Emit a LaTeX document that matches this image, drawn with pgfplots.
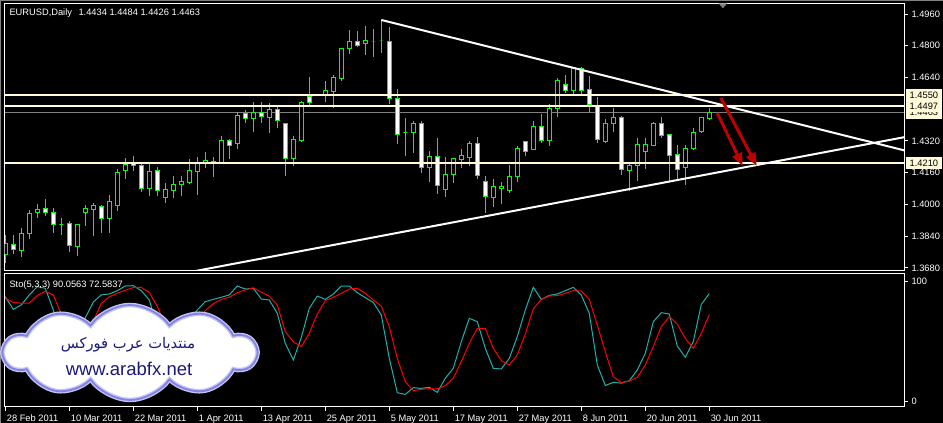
\documentclass[border=0pt]{standalone}
\usepackage{fontspec}
\setmainfont{Liberation Sans}
\newfontfamily\arabicfont[Script=Arabic]{DejaVu Sans}
\TeXXeTstate=1
\usepackage{pgfplots}
\pgfplotsset{compat=1.18}
\usepackage{pgfplotstable}
\usetikzlibrary{shapes.symbols,arrows.meta}

\definecolor{cream}{RGB}{255,250,215}
\definecolor{candle}{RGB}{0,255,0}
\definecolor{stoK}{RGB}{32,178,170}
\definecolor{stoD}{RGB}{255,0,0}
\definecolor{arrowred}{RGB}{190,0,0}
\definecolor{cloudedge}{RGB}{130,130,230}
\definecolor{cloudglow}{RGB}{195,195,245}
\definecolor{navytext}{RGB}{25,25,125}
\definecolor{bidgrey}{RGB}{128,128,128}

\newcommand\mtfont{\fontsize{9.3}{11}\selectfont}

\pgfplotstableread{
i o h l c
0 1.3750 1.3846 1.3705 1.3801
1 1.3799 1.3846 1.3750 1.3771
2 1.3767 1.3882 1.3735 1.3856
3 1.3856 1.3972 1.3826 1.3957
4 1.3962 1.4002 1.3932 1.3977
5 1.3982 1.4028 1.3942 1.3962
6 1.3962 1.3982 1.3856 1.3897
7 1.3897 1.3932 1.3846 1.3897
8 1.3902 1.3917 1.3761 1.3791
9 1.3786 1.3899 1.3740 1.3897
10 1.3962 1.3997 1.3892 1.3982
11 1.3977 1.4008 1.3841 1.3993
12 1.3991 1.3995 1.3856 1.3928
13 1.3927 1.4048 1.3856 1.4013
14 1.3997 1.4179 1.3967 1.4159
15 1.4169 1.4234 1.4128 1.4204
16 1.4209 1.4244 1.4169 1.4194
17 1.4194 1.4209 1.4063 1.4083
18 1.4083 1.4214 1.4043 1.4164
19 1.4169 1.4189 1.4043 1.4068
20 1.4033 1.4108 1.4008 1.4078
21 1.4073 1.4144 1.4033 1.4103
22 1.4103 1.4144 1.4043 1.4118
23 1.4113 1.4230 1.4103 1.4169
24 1.4164 1.4239 1.4048 1.4214
25 1.4209 1.4265 1.4184 1.4224
26 1.4213 1.4239 1.4139 1.4215
27 1.4214 1.4345 1.4212 1.4325
28 1.4325 1.4330 1.4230 1.4295
29 1.4305 1.4466 1.4280 1.4451
30 1.4461 1.4476 1.4411 1.4431
31 1.4431 1.4517 1.4367 1.4466
32 1.4466 1.4517 1.4411 1.4441
33 1.4436 1.4511 1.4360 1.4481
34 1.4481 1.4491 1.4386 1.4421
35 1.4406 1.4411 1.4144 1.4230
36 1.4230 1.4345 1.4194 1.4330
37 1.4325 1.4522 1.4315 1.4516
38 1.4542 1.4643 1.4496 1.4516
39 1.4550 1.4555 1.4545 1.4550
40 1.4552 1.4622 1.4517 1.4577
41 1.4567 1.4653 1.4486 1.4638
42 1.4633 1.4789 1.4622 1.4784
43 1.4784 1.4879 1.4758 1.4819
44 1.4819 1.4874 1.4794 1.4799
45 1.4809 1.4900 1.4753 1.4824
46 1.4819 1.4884 1.4743 1.4819
47 1.4824 1.4930 1.4764 1.4824
48 1.4819 1.4894 1.4507 1.4532
49 1.4532 1.4582 1.4305 1.4351
50 1.4361 1.4436 1.4245 1.4361
51 1.4361 1.4421 1.4260 1.4406
52 1.4406 1.4421 1.4159 1.4184
53 1.4184 1.4270 1.4114 1.4240
54 1.4240 1.4336 1.4053 1.4098
55 1.4078 1.4240 1.4038 1.4149
56 1.4149 1.4235 1.4109 1.4230
57 1.4225 1.4280 1.4184 1.4245
58 1.4235 1.4321 1.4194 1.4305
59 1.4305 1.4341 1.4129 1.4144
60 1.4118 1.4144 1.3957 1.4038
61 1.4033 1.4129 1.3988 1.4093
62 1.4083 1.4113 1.4003 1.4093
63 1.4073 1.4199 1.4058 1.4139
64 1.4139 1.4295 1.4113 1.4280
65 1.4315 1.4317 1.4245 1.4265
66 1.4275 1.4421 1.4273 1.4391
67 1.4391 1.4456 1.4311 1.4321
68 1.4321 1.4506 1.4295 1.4486
69 1.4486 1.4638 1.4441 1.4627
70 1.4607 1.4653 1.4562 1.4572
71 1.4572 1.4693 1.4557 1.4688
72 1.4683 1.4693 1.4557 1.4577
73 1.4582 1.4648 1.4466 1.4506
74 1.4496 1.4542 1.4311 1.4330
75 1.4316 1.4431 1.4311 1.4406
76 1.4406 1.4486 1.4366 1.4436
77 1.4436 1.4446 1.4149 1.4174
78 1.4169 1.4214 1.4068 1.4199
79 1.4194 1.4336 1.4118 1.4300
80 1.4265 1.4336 1.4179 1.4300
81 1.4295 1.4416 1.4293 1.4406
82 1.4406 1.4441 1.4336 1.4346
83 1.4351 1.4353 1.4113 1.4245
84 1.4250 1.4300 1.4129 1.4174
85 1.4184 1.4300 1.4098 1.4280
86 1.4280 1.4386 1.4275 1.4361
87 1.4366 1.4441 1.4361 1.4436
88 1.4434 1.4484 1.4426 1.4463
}\candles

\pgfplotstableread{
i k d
0 87.5 86.1
1 77 82.8
2 80.6 82
3 89 82.2
4 95.9 88.5
5 94.5 92
6 76.4 88.9
7 48 73
8 30 51
9 48 41
10 70 49
11 83 67
12 89 82
13 89.8 87.4
14 92.5 90.4
15 96.4 92.9
16 96.7 95.2
17 92.5 95.2
18 84.75 91
19 62 79.5
20 45 64
21 52 53
22 58 51.7
23 68 59.3
24 76.4 67.5
25 83.4 75.9
26 85.3 81.7
27 87 85.2
28 89 87.1
29 96.4 90.8
30 93.9 93.1
31 94.5 94.9
32 85.6 91.3
33 84.75 88
34 73.6 80.6
35 48.6 58.4
36 34.75 50
37 53.5 45.9
38 77.8 57
39 88 73
40 85.3 84.2
41 89.75 87
42 96.4 90.3
43 96.4 93.9
44 90.9 94.5
45 86.7 90.3
46 82.8 84.75
47 72.25 79.75
48 36.1 62.5
49 7.5 36.1
50 6.1 16.7
51 11.7 9.2
52 11.1 10.3
53 12 10.9
54 7.8 10.6
55 19.5 13.4
56 27.8 19.5
57 50 33.4
58 69.5 48.6
59 66.7 61.1
60 44.5 61.1
61 27.8 44.5
62 27.25 34.2
63 36.1 30.6
64 54.2 38.9
65 76.4 56.4
66 95.3 77.25
67 85.3 85.3
68 88.6 88.1
69 89.75 88.4
70 92.5 90.3
71 95.3 92.5
72 88.9 92.25
73 73.6 85.3
74 30.6 63.9
75 13.5 41.7
76 16.1 20.9
77 15.5 15.9
78 17.5 17.25
79 26.4 20.3
80 40.3 30.6
81 66.7 45.9
82 74.2 62.5
83 73.1 70.9
84 46.4 64.75
85 37 52.8
86 50 44.5
87 81 57
88 90.0563 72.5837
}\stoch

\begin{document}
\begin{tikzpicture}
\useasboundingbox (0pt,0pt) rectangle (943pt,423pt);
\fill[black] (0pt,0pt) rectangle (943pt,423pt);
\draw[bidgrey, line width=1.2pt] (0.6pt,0pt) -- (0.6pt,423pt);
\draw[bidgrey, line width=1.2pt] (0pt,422.4pt) -- (943pt,422.4pt);

% ---------------- main price panel ----------------
\begin{axis}[
  at={(4.5pt,152pt)}, anchor=south west,
  width=899.5pt, height=267.7pt, scale only axis,
  xmin=-0.1, xmax=112.34, ymin=1.36648, ymax=1.5014,
  axis line style={white, line width=1pt},
  xtick=\empty,
  ytick={1.368,1.384,1.400,1.416,1.432,1.464,1.480,1.496},
  ytick pos=right, yticklabel pos=right,
  tick align=outside, major tick length=4pt,
  tick style={white, line width=1pt},
  yticklabel style={text=white, font=\mtfont, /pgf/number format/.cd, fixed, fixed zerofill, precision=4, assume math mode=true},
  clip=true,
]
% bid line
\addplot[bidgrey, line width=1pt, forget plot] coordinates {(-0.1,1.4463) (112.34,1.4463)};
% candles: wick and body for each row of the table
\pgfplotsforeachungrouped \r in {0,...,88} {
  \pgfplotstablegetelem{\r}{o}\of\candles \let\vO=\pgfplotsretval
  \pgfplotstablegetelem{\r}{h}\of\candles \let\vH=\pgfplotsretval
  \pgfplotstablegetelem{\r}{l}\of\candles \let\vL=\pgfplotsretval
  \pgfplotstablegetelem{\r}{c}\of\candles \let\vC=\pgfplotsretval
  \pgfmathparse{int(\vC<\vO)}
  \ifnum\pgfmathresult=1 \def\bodyfill{white}\else\def\bodyfill{black}\fi
  \pgfmathsetmacro\xa{\r-0.25}
  \pgfmathsetmacro\xb{\r+0.25}
  \edef\cmd{%
    \noexpand\addplot[candle, line width=1pt, forget plot] coordinates {(\r,\vL) (\r,\vH)};
    \noexpand\addplot[draw=candle, fill=\bodyfill, line width=1pt, forget plot] coordinates {(\xa,\vO) (\xb,\vO) (\xb,\vC) (\xa,\vC)} -- cycle;
  }\cmd
}
% horizontal levels
\addplot[cream, line width=2pt, forget plot] coordinates {(-0.1,1.4550) (112.34,1.4550)};
\addplot[cream, line width=2pt, forget plot] coordinates {(-0.1,1.4497) (112.34,1.4497)};
\addplot[cream, line width=2pt, forget plot] coordinates {(-0.1,1.4210) (112.34,1.4210)};
% trend lines
\addplot[white, line width=2pt, forget plot] coordinates {(47,1.4930) (112.34,1.4273)};
\addplot[white, line width=2pt, forget plot] coordinates {(20,1.3636) (112.34,1.4339)};
% arrows
\addplot[arrowred, line width=3pt, -{Triangle[length=13pt, width=10pt]}, forget plot] coordinates {(89.0,1.4460) (92.18,1.4194)};
\addplot[arrowred, line width=3pt, -{Triangle[length=13pt, width=10pt]}, forget plot] coordinates {(89.43,1.4538) (93.93,1.4194)};
% shift marker
\fill[bidgrey] (axis cs:89.15,1.5014) -- (axis cs:90.25,1.5014) -- (axis cs:89.7,1.4989) -- cycle;
\coordinate (b4550) at (axis cs:112.34,1.4550);
\coordinate (b4497) at (axis cs:112.34,1.4497);
\coordinate (b4463) at (axis cs:112.34,1.4463);
\coordinate (b4210) at (axis cs:112.34,1.4210);
\end{axis}

% ---------------- stochastic panel ----------------
\begin{axis}[
  at={(4.5pt,16pt)}, anchor=south west,
  width=899.5pt, height=133pt, scale only axis,
  xmin=-0.1, xmax=112.34, ymin=-4.42, ymax=106.42,
  axis line style={white, line width=1pt},
  ytick={0,100}, ytick pos=right, yticklabel pos=right,
  xtick={0,8,...,88}, xtick pos=left,
  xticklabels={28 Feb 2011, 10 Mar 2011, 22 Mar 2011, 1 Apr 2011, 13 Apr 2011, 25 Apr 2011, 5 May 2011, 17 May 2011, 27 May 2011, 8 Jun 2011, 20 Jun 2011, 30 Jun 2011},
  tick align=outside, major tick length=4pt,
  tick style={white, line width=1pt},
  yticklabel style={text=white, font=\mtfont, /pgf/number format/assume math mode=true},
  xticklabel style={text=white, font=\mtfont, anchor=north west, xshift=-2pt},
  clip=true,
]
\addplot[stoK, line width=1pt] table[x=i, y=k] {\stoch};
\addplot[stoD, line width=1pt] table[x=i, y=d] {\stoch};
\end{axis}

% price boxes on the right scale
\tikzset{pricebox/.style={fill=cream, text=black, anchor=west, font=\mtfont, inner xsep=3.5pt, inner ysep=0pt, minimum height=12pt}}
\node[pricebox] at ([xshift=2pt]b4463) {1.4463};
\node[pricebox] at ([xshift=2pt]b4497) {1.4497};
\node[pricebox] at ([xshift=2pt]b4550) {1.4550};
\node[pricebox] at ([xshift=2pt]b4210) {1.4210};

% titles
\node[anchor=base west, text=white, font=\mtfont, inner sep=0pt] at (9.3pt,407.7pt) {EURUSD,Daily\hspace{6.5pt}1.4434 1.4484 1.4426 1.4463};
\node[anchor=base west, text=white, font=\mtfont, inner sep=0pt] at (9.3pt,135.5pt) {Sto(5,3,3) 90.0563 72.5837};

% cloud logo (soft glow edge)
\tikzset{logocloud/.style={cloud, cloud puffs=10, cloud puff arc=110, aspect=2.6, minimum width=252pt, minimum height=95pt, inner sep=0pt}}
\node[logocloud, draw=cloudglow, line width=4.5pt, fill=white] at (130pt,70.5pt) {};
\node[logocloud, draw=cloudedge, line width=1.8pt] at (130pt,70.5pt) {};
\node[text=navytext, font=\fontsize{14.7}{17}\arabicfont] at (128pt,78.5pt) {\beginR منتديات عرب فوركس\endR};
\node[text=navytext, font=\fontsize{18.5}{20}\selectfont, anchor=base] at (129pt,47pt) {www.arabfx.net};
\end{tikzpicture}
\end{document}
